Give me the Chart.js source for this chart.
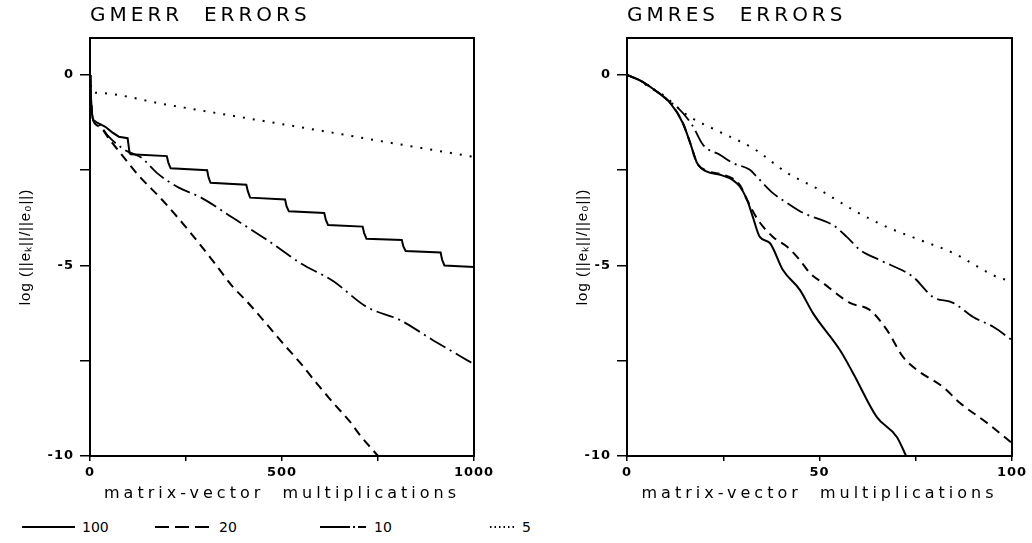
<!DOCTYPE html>
<html lang="en">
<head>
<meta charset="UTF-8">
<title>GMERR / GMRES errors</title>
<script src="https://cdn.jsdelivr.net/npm/chart.js"></script>
<style>
  html, body { margin: 0; padding: 0; background: #fff; }
  body { width: 1032px; height: 543px; position: relative; overflow: hidden; font-family: 'DejaVu Sans', sans-serif; color: #000; }
  .panel { position: absolute; top: 0; width: 516px; height: 505px; }
  #legend { position: absolute; left: 0; top: 505px; width: 1032px; height: 38px; }
  .item { position: absolute; top: 13px; height: 18px; display: flex; align-items: center; font-size: 14px; }
  .item svg { margin-right: 7px; }
</style>
</head>
<body>
<div class="panel" style="left:0"><canvas id="gmerrChart"></canvas></div>
<div class="panel" style="left:516px"><canvas id="gmresChart"></canvas></div>
<div id="legend"></div>

<script>
// restart lengths (legend labels)
const restarts = ['100', '20', '10', '5'];

// GMERR: [matrix-vector multiplications, log(||e_k||/||e_0||)]
const gmerr100 = [[0,0],[2,-0.5],[5,-1.0],[8,-1.18],[20,-1.26],[40,-1.36],[57,-1.5],[75,-1.62],[98,-1.66],[103,-2.05],[106,-2.08],
  [200,-2.13],[204,-2.3],[210,-2.45],[305,-2.5],[309,-2.7],[314,-2.83],[407,-2.88],[411,-3.05],[417,-3.22],
  [508,-3.27],[512,-3.45],[518,-3.58],[610,-3.62],[614,-3.8],[620,-3.94],[710,-3.98],[714,-4.15],[720,-4.3],
  [812,-4.33],[816,-4.5],[822,-4.62],[913,-4.66],[917,-4.85],[923,-5.0],[1000,-5.04]];
const gmerr20 = [[0,0],[3,-0.7],[8,-1.18],[26,-1.36],[52,-1.71],[73,-1.97],[99,-2.3],[125,-2.62],[190,-3.3],[260,-4.12],
  [320,-4.88],[372,-5.56],[409,-5.95],[461,-6.55],[503,-7.05],[547,-7.55],[591,-8.1],[633,-8.6],[677,-9.1],[703,-9.45],[750,-10]];
const gmerr10 = [[0,0],[3,-0.7],[8,-1.18],[20,-1.28],[31,-1.38],[47,-1.6],[91,-1.97],[135,-2.18],[174,-2.57],[230,-2.95],
  [286,-3.2],[372,-3.75],[461,-4.33],[547,-4.93],[633,-5.41],[721,-6.09],[807,-6.43],[893,-6.96],[1000,-7.59]];
const gmerr5 = [[0,0],[4,-0.42],[21,-0.47],[200,-0.78],[400,-1.12],[600,-1.46],[800,-1.81],[1000,-2.15]];

// GMRES
const gmres100 = [[0,0],[3.5,-0.15],[6.8,-0.37],[11.2,-0.73],[14.5,-1.26],[16.4,-1.78],[18.2,-2.31],[20.8,-2.54],[24.2,-2.62],
  [27.5,-2.76],[29.4,-2.94],[31.2,-3.28],[32.7,-3.73],[34.5,-4.25],[37.1,-4.41],[40.5,-5.12],[44.9,-5.64],[48.3,-6.25],
  [55.3,-7.22],[58.7,-7.82],[64.9,-8.98],[70.1,-9.5],[72.5,-10]];
const gmres20 = [[0,0],[3.5,-0.15],[6.8,-0.37],[11.2,-0.73],[14.5,-1.26],[16.4,-1.78],[18.2,-2.31],[20.8,-2.52],[24.2,-2.6],
  [27.5,-2.72],[29.4,-2.9],[31.2,-3.28],[34,-3.8],[37.9,-4.25],[41.6,-4.51],[44.9,-4.86],[47.5,-5.2],[50.9,-5.46],
  [57.9,-5.98],[63.1,-6.17],[67.5,-6.69],[71.7,-7.4],[75.3,-7.74],[82.1,-8.19],[86.5,-8.61],[93.5,-9.13],[100,-9.66]];
const gmres10 = [[0,0],[3.5,-0.15],[6.8,-0.36],[11,-0.7],[13,-0.84],[16.9,-1.31],[19.8,-1.84],[24.2,-2.1],[27.5,-2.31],
  [31.9,-2.49],[33.8,-2.68],[37.9,-3.1],[41.6,-3.36],[45.7,-3.62],[53.5,-3.94],[57.1,-4.25],[60.5,-4.59],[65.7,-4.86],
  [74.3,-5.3],[79.5,-5.83],[84.7,-5.98],[89.9,-6.35],[95.1,-6.61],[100,-6.96]];
const gmres5 = [[0,0],[3.5,-0.15],[6,-0.34],[8.6,-0.47],[15.6,-1.05],[24.2,-1.5],[32.7,-1.92],[41.6,-2.57],[50.1,-3.02],
  [58.7,-3.54],[67.5,-3.99],[76.1,-4.33],[84.7,-4.67],[96.1,-5.3],[100,-5.42]];

const lineStyles = [
  { width: 2, dash: [] },
  { width: 2, dash: [9, 6] },
  { width: 1.8, dash: [18, 5, 2, 5] },
  { width: 2, dash: [2, 8] }
];

const pts = arr => arr.map(p => ({ x: p[0], y: p[1] }));

// wide letter spacing for titles (drawn before the lines), narrow for the rest
const spacing = {
  id: 'spacing',
  beforeDraw(chart) { chart.ctx.letterSpacing = '4px'; },
  afterDatasetsDraw(chart) { chart.ctx.letterSpacing = '1px'; },
  afterDraw(chart) { chart.ctx.letterSpacing = '0px'; }
};

// box around the plot area
const frame = {
  id: 'frame',
  beforeDatasetsDraw(chart) {
    const { ctx, chartArea: a } = chart;
    ctx.save();
    ctx.strokeStyle = '#000';
    ctx.lineWidth = 2;
    ctx.strokeRect(a.left, a.top, a.right - a.left, a.bottom - a.top);
    ctx.restore();
  }
};

function makeChart(id, title, series, smooth, xMax, yWidth, yTitlePad, rightPad) {
  return new Chart(document.getElementById(id), {
    type: 'line',
    data: {
      datasets: series.map((s, i) => ({
        label: restarts[i],
        data: pts(s),
        borderColor: '#000',
        borderWidth: lineStyles[i].width,
        borderDash: lineStyles[i].dash,
        pointRadius: 0,
        fill: false,
        cubicInterpolationMode: smooth[i] ? 'monotone' : 'default',
        tension: 0
      }))
    },
    options: {
      responsive: true,
      maintainAspectRatio: false,
      animation: false,
      layout: { padding: { left: 0, right: rightPad, top: 0, bottom: 0 } },
      plugins: {
        legend: { display: false },
        tooltip: { enabled: false },
        title: {
          display: true, text: title, align: 'start', fullSize: false, color: '#000',
          font: { family: "'DejaVu Sans', sans-serif", size: 20, weight: 'normal' },
          padding: { top: 4, bottom: 10 }
        }
      },
      scales: {
        x: {
          type: 'linear', min: 0, max: xMax,
          afterFit: s => { s.height = 49; },
          ticks: {
            stepSize: xMax / 4, autoSkip: false, maxRotation: 0, color: '#000', padding: 4, z: 1,
            font: { family: "'DejaVu Sans', sans-serif", size: 13, weight: 'bold' },
            callback: v => (v % (xMax / 2) === 0 ? String(v) : '')
          },
          grid: { drawOnChartArea: false, tickLength: 5, color: '#000', lineWidth: 1.5 },
          border: { display: false },
          title: {
            display: true, text: 'matrix-vector  multiplications', color: '#000',
            font: { family: "'DejaVu Sans', sans-serif", size: 16 },
            padding: { top: 0, bottom: 2 }
          }
        },
        y: {
          min: -10, max: 0.97,
          afterFit: s => { s.width = yWidth; },
          ticks: {
            stepSize: 2.5, includeBounds: false, color: '#000', padding: 6, z: 1,
            font: { family: "'DejaVu Sans', sans-serif", size: 13, weight: 'bold' },
            callback: v => (v % 5 === 0 ? String(v) : '')
          },
          grid: { drawOnChartArea: false, tickLength: 10, color: '#000', lineWidth: 1.5, z: 1 },
          border: { display: false },
          title: {
            display: true, text: 'log (||eₖ||/||e₀||)', color: '#000',
            font: { family: "'Liberation Sans', sans-serif", size: 15 },
            padding: { top: yTitlePad, bottom: 0 }
          }
        }
      }
    },
    plugins: [spacing, frame]
  });
}

makeChart('gmerrChart', 'GMERR  ERRORS', [gmerr100, gmerr20, gmerr10, gmerr5], [false, true, true, true], 1000, 90, 17, 42);
makeChart('gmresChart', 'GMRES  ERRORS', [gmres100, gmres20, gmres10, gmres5], [true, true, true, true], 100, 111, 58, 20);

// legend below the panels
const legendLeft = [22, 155, 320, 490];
const legendLen = [53, 57, 47, 25];
const legendDash = ['', '14,6', '30,3,2,3,8,50', '1.5,3'];
const legend = document.getElementById('legend');
restarts.forEach((r, i) => {
  const item = document.createElement('div');
  item.className = 'item';
  item.style.left = legendLeft[i] + 'px';
  const w = legendLen[i];
  item.innerHTML = '<svg width="' + w + '" height="4"><line x1="0" y1="2" x2="' + w + '" y2="2" stroke="#000" stroke-width="2"' +
    (legendDash[i] ? ' stroke-dasharray="' + legendDash[i] + '"' : '') + '/></svg><span>' + r + '</span>';
  legend.appendChild(item);
});
</script>
</body>
</html>
